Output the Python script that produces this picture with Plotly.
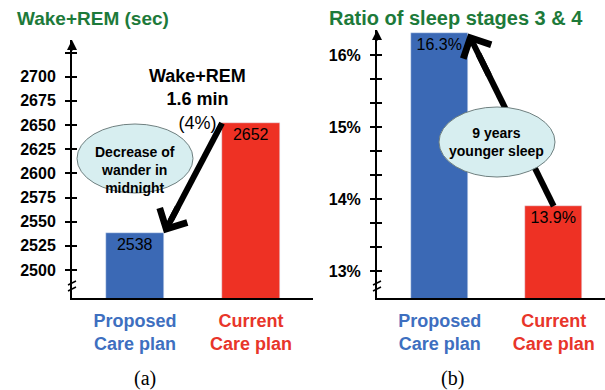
import plotly.graph_objects as go

# ---------------- data ----------------
categories = ["Proposed Care plan", "Current Care plan"]
cat_line1 = ["Proposed", "Current"]
cat_line2 = ["Care plan", "Care plan"]
wake_rem_sec = [2538, 2652]
stage34_pct = [16.3, 13.9]
bar_colors = ["#3b69b5", "#ee3124"]
label_colors = ["#3e6fc0", "#e8352a"]

left_tickvals = [2500, 2525, 2550, 2575, 2600, 2625, 2650, 2675, 2700, 2725]
left_ticktext = ["2500", "2525", "2550", "2575", "2600", "2625", "2650", "2675", "2700", ""]
right_tickvals = [13.0, 13.333, 13.667, 14.0, 14.333, 14.667, 15.0, 15.333, 15.667, 16.0]
right_ticktext = ["13%", "", "", "14%", "", "", "15%", "", "", "16%"]

left_title = "Wake+REM (sec)"
right_title = "Ratio of sleep stages 3 &amp; 4"
left_note = "<b>Wake+REM</b><br><b>1.6 min</b><br>(4%)"
left_bubble = "Decrease of<br>wander in<br>midnight"
right_bubble = "9 years<br>younger sleep"

# ---------------- layout helpers ----------------
W, H = 605, 390
def px(x):
    return x / W
def py(y):
    return 1 - y / H

GREEN = "#1d7a3a"
FONT = "Liberation Sans, Arial, sans-serif"
BW = 0.5

fig = go.Figure()

fig.add_trace(go.Bar(
    x=categories, y=wake_rem_sec, marker_color=bar_colors, width=BW,
    text=[str(v) for v in wake_rem_sec], textposition="inside",
    insidetextanchor="end", textangle=0,
    textfont=dict(family=FONT, size=16, color="black"),
    xaxis="x", yaxis="y", showlegend=False, hoverinfo="skip"))

fig.add_trace(go.Bar(
    x=categories, y=stage34_pct, marker_color=bar_colors, width=BW,
    text=[f"{v:.1f}%" for v in stage34_pct], textposition="inside",
    insidetextanchor="end", textangle=0,
    textfont=dict(family=FONT, size=16, color="black"),
    xaxis="x2", yaxis="y2", showlegend=False, hoverinfo="skip"))

cat_ticktext = [
    f"<span style='color:{c}'>{a}</span><br><span style='color:{c}'>{b}</span>"
    for a, b, c in zip(cat_line1, cat_line2, label_colors)
]

xcommon = dict(type="category", showline=True, linecolor="black", linewidth=2,
               showgrid=False, zeroline=False, ticks="",
               tickfont=dict(family=FONT, size=18, weight="bold"),
               tickvals=categories, ticktext=cat_ticktext, ticklabelstandoff=5)

ycommon = dict(showline=True, linecolor="black", linewidth=2, showgrid=False,
               zeroline=False, ticks="outside", ticklen=5, tickwidth=2,
               tickcolor="black",
               tickfont=dict(family=FONT, size=16, weight="bold", color="black"),
               ticklabelstandoff=6)

ydom_l = [py(298), py(40)]
ydom_r = [py(298), py(30)]
yr_l = [2471, 2738]
yr_r = [12.625, 16.347]

fig.update_layout(
    width=W, height=H, margin=dict(l=0, r=0, t=0, b=0),
    paper_bgcolor="white", plot_bgcolor="white", bargap=0,
    xaxis=dict(domain=[px(72), px(313)], range=[-0.543, 1.534], anchor="y", **xcommon),
    xaxis2=dict(domain=[px(377), 1.0], range=[-0.55, 1.45], anchor="y2", **xcommon),
    yaxis=dict(domain=ydom_l, range=yr_l, anchor="x", tickvals=left_tickvals,
               ticktext=left_ticktext, **ycommon),
    yaxis2=dict(domain=ydom_r, range=yr_r, anchor="x2", tickvals=right_tickvals,
                ticktext=right_ticktext, **ycommon),
    yaxis3=dict(overlaying="y", anchor="x", range=yr_l, tickvals=left_tickvals,
                ticks="inside", ticklen=5, tickwidth=2, tickcolor="black",
                showticklabels=False, showline=False, showgrid=False, zeroline=False),
    yaxis4=dict(overlaying="y2", anchor="x2", range=yr_r, tickvals=right_tickvals,
                ticks="inside", ticklen=5, tickwidth=2, tickcolor="black",
                showticklabels=False, showline=False, showgrid=False, zeroline=False),
)
# invisible traces so the overlay axes render
fig.add_trace(go.Scatter(x=[categories[0]], y=[wake_rem_sec[0]], xaxis="x", yaxis="y3",
                         mode="markers", marker=dict(opacity=0), showlegend=False, hoverinfo="skip"))
fig.add_trace(go.Scatter(x=[categories[0]], y=[stage34_pct[0]], xaxis="x2", yaxis="y4",
                         mode="markers", marker=dict(opacity=0), showlegend=False, hoverinfo="skip"))

shapes = []
annos = []

# arrows: line part as shapes (below bubbles), heads as annotations
def arrow(xref, yref, tail, tip):
    (tx, ty), (hx, hy) = tail, tip
    ex = hx + 0.12 * (tx - hx)
    ey = hy + 0.12 * (ty - hy)
    shapes.append(dict(type="line", xref=xref, yref=yref, x0=tx, y0=ty, x1=ex, y1=ey,
                       line=dict(color="black", width=6), layer="above"))
    annos.append(dict(xref=xref, yref=yref, axref=xref, ayref=yref,
                      x=hx, y=hy, ax=hx + 0.25 * (tx - hx), ay=hy + 0.25 * (ty - hy),
                      showarrow=True, arrowhead=4, arrowwidth=6, arrowsize=1.0,
                      arrowcolor="black", text="", standoff=0))

arrow("x", "y", (1 - BW / 2, wake_rem_sec[1]), (0 + BW / 2, wake_rem_sec[0]))
arrow("x2", "y2", (1.0, stage34_pct[1]), (0 + BW / 2, stage34_pct[0]))

# bubbles
for (x0, x1, y0, y1) in [(77, 193, 124, 193), (439, 555, 107, 177)]:
    shapes.append(dict(type="circle", xref="paper", yref="paper",
                       x0=px(x0), x1=px(x1), y0=py(y1), y1=py(y0),
                       fillcolor="#d7eef0", line=dict(color="#6f8080", width=1),
                       layer="above"))

# axis break marks
for ax_x in (72, 377):
    for yy in (283, 289):
        shapes.append(dict(type="line", xref="paper", yref="paper",
                           x0=px(ax_x - 4), y0=py(yy + 2), x1=px(ax_x + 4), y1=py(yy - 2),
                           line=dict(color="black", width=1.5)))

# axis top arrowheads
for yref, xref in (("y domain", "x domain"), ("y2 domain", "x2 domain")):
    annos.append(dict(xref=xref, yref=yref, x=0, y=1, ax=0, ay=12, showarrow=True,
                      arrowhead=2, arrowwidth=2, arrowsize=1, arrowcolor="black",
                      text="", standoff=0))

# titles
annos.append(dict(xref="paper", yref="paper", x=px(15), y=py(18), xanchor="left",
                  yanchor="middle", showarrow=False, text=f"<b>{left_title}</b>",
                  font=dict(family=FONT, size=19, color=GREEN)))
annos.append(dict(xref="paper", yref="paper", x=px(327), y=py(18), xanchor="left",
                  yanchor="middle", showarrow=False, text=f"<b>{right_title}</b>",
                  font=dict(family=FONT, size=20, color=GREEN)))

# notes
annos.append(dict(xref="paper", yref="paper", x=px(197), y=py(99), xanchor="center",
                  yanchor="middle", showarrow=False, text=left_note,
                  font=dict(family=FONT, size=18, color="black")))
annos.append(dict(xref="paper", yref="paper", x=px(135), y=py(170), xanchor="center",
                  yanchor="middle", showarrow=False, text=f"<b>{left_bubble}</b>",
                  font=dict(family=FONT, size=14, color="black")))
annos.append(dict(xref="paper", yref="paper", x=px(497), y=py(142), xanchor="center",
                  yanchor="middle", showarrow=False, text=f"<b>{right_bubble}</b>",
                  font=dict(family=FONT, size=14, color="black")))

# panel letters
for lab, xx in (("(a)", 145), ("(b)", 452)):
    annos.append(dict(xref="paper", yref="paper", x=px(xx), y=py(378), xanchor="center",
                      yanchor="middle", showarrow=False, text=lab,
                      font=dict(family="Liberation Serif, Times New Roman, serif",
                                size=20, color="black")))

fig.update_layout(shapes=shapes, annotations=annos)
fig.write_html("out.html")
